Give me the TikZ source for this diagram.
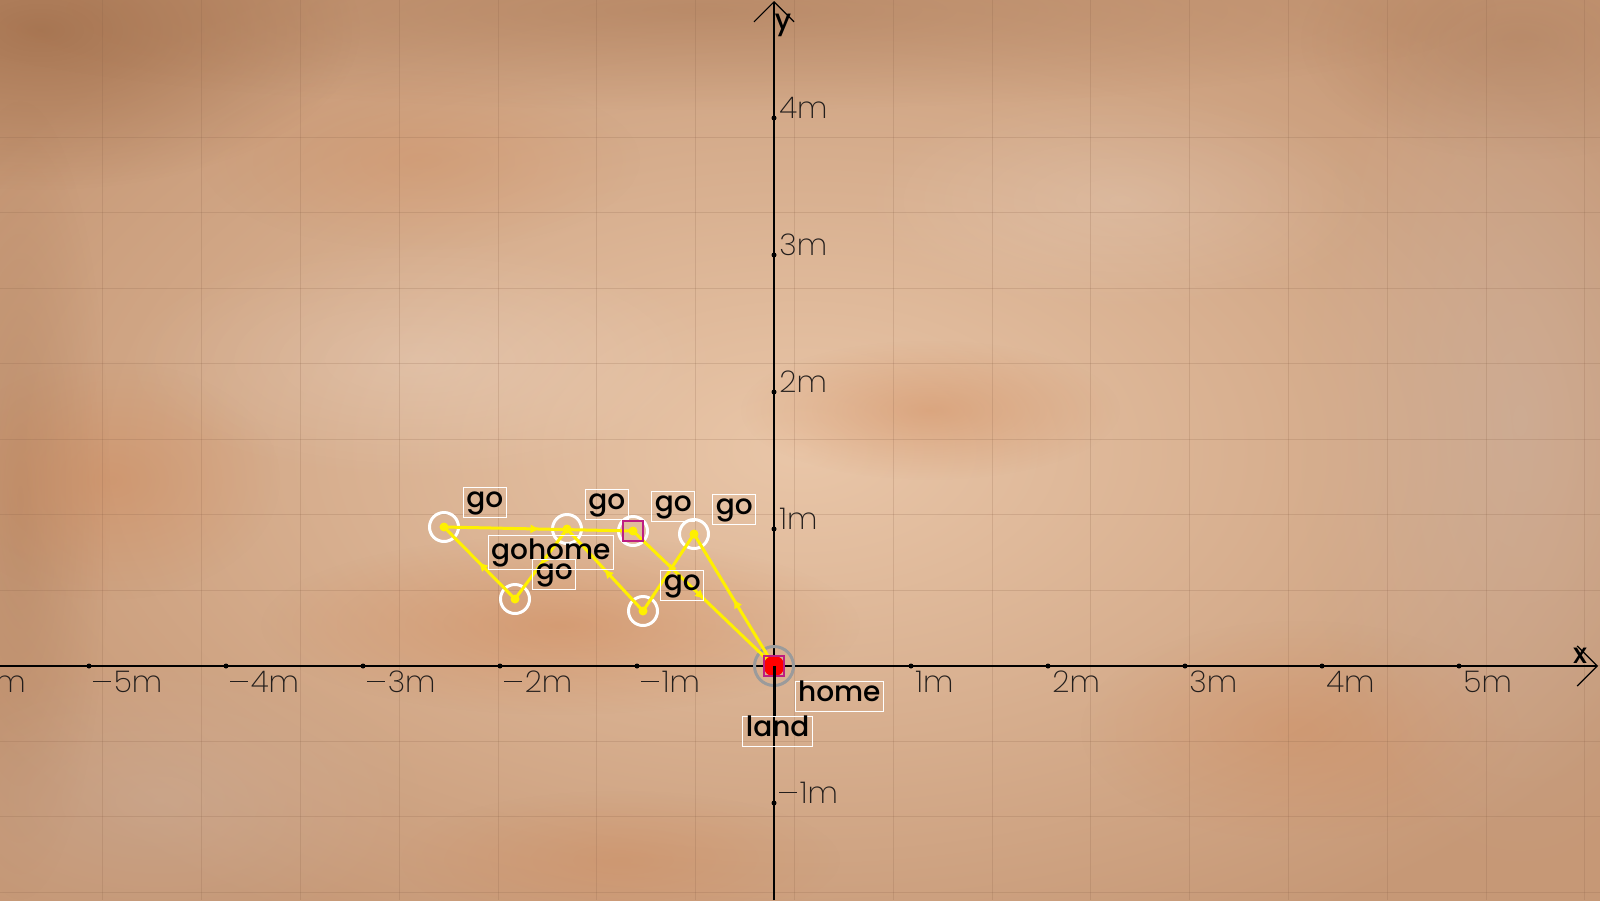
\documentclass[tikz,border=0pt]{standalone}
\usepackage{fontspec}
\newfontfamily\lblfont{Poppins Medium}
\newfontfamily\tickfont{Poppins ExtraLight}
\usetikzlibrary{arrows.meta,decorations.markings,fadings}
\newcommand\mns{\rule[0.33em]{0.6em}{0.6pt}\kern0.08em}
\definecolor{parchlight}{RGB}{233,198,168}
\definecolor{parchdark}{RGB}{198,152,118}
\definecolor{blotch}{RGB}{205,128,78}
\definecolor{darkbrown}{RGB}{150,98,62}
\definecolor{grayish}{RGB}{205,178,160}
\definecolor{gridc}{RGB}{135,95,70}
\definecolor{pathyel}{RGB}{255,240,0}
\definecolor{sqmag}{RGB}{190,30,130}
\definecolor{ringgray}{RGB}{155,155,155}
\definecolor{tickc}{RGB}{35,30,28}
\tikzfading[name=softblob, inner color=transparent!0, outer color=transparent!100]
\begin{document}
\begin{tikzpicture}[x=0.5pt,y=-0.5pt,
  blob/.style={path fading=softblob},
  gridline/.style={draw=gridc, opacity=0.2, line width=0.5pt},
  axisline/.style={draw=black, line width=0.75pt},
  tickdot/.style={fill=black},
  ticklbl/.style={font=\tickfont\fontsize{15}{15}\selectfont, text=tickc, inner sep=0pt},
  yel/.style={draw=pathyel, color=pathyel, line width=1.5pt, postaction={decorate},
    decoration={markings, mark=at position 0.5 with {\arrow{Triangle[length=4pt,width=4pt]}}}},
  wring/.style={draw=white, line width=1.5pt},
  ydot/.style={fill=pathyel},
  sqbox/.style={draw=sqmag, line width=0.6pt, minimum size=10pt, inner sep=0pt},
  lbl/.style={draw=white, line width=0.5pt, font=\lblfont\fontsize{14}{14}\selectfont, text=black,
    inner xsep=1.5pt, inner ysep=0pt, text height=10pt, text depth=5pt},
  axlbl/.style={font=\lblfont\fontsize{14}{14}\selectfont, text=black, inner sep=0pt}
]
\useasboundingbox (0,0) rectangle (1600,900);
\clip (0,0) rectangle (1600,900);
% background parchment
\shade[inner color=parchlight, outer color=parchdark] (-150,-100) rectangle (1750,1000);
\fill[darkbrown, opacity=0.6, blob] (40,30) ellipse (320 and 160);
\fill[darkbrown, opacity=0.35, blob] (700,10) ellipse (800 and 100);
\fill[darkbrown, opacity=0.3, blob] (1520,40) ellipse (220 and 120);
\fill[darkbrown, opacity=0.25, blob] (20,500) ellipse (90 and 400);
\fill[blotch, opacity=0.45, blob] (560,625) ellipse (300 and 90);
\fill[blotch, opacity=0.4, blob] (930,410) ellipse (190 and 70);
\fill[blotch, opacity=0.35, blob] (110,480) ellipse (170 and 120);
\fill[blotch, opacity=0.3, blob] (1300,730) ellipse (220 and 110);
\fill[blotch, opacity=0.3, blob] (620,860) ellipse (220 and 70);
\fill[blotch, opacity=0.25, blob] (420,160) ellipse (220 and 90);
\fill[grayish, opacity=0.55, blob] (1520,420) ellipse (220 and 460);
\fill[grayish, opacity=0.4, blob] (160,800) ellipse (260 and 140);
\fill[white, opacity=0.18, blob] (420,360) ellipse (300 and 120);
\fill[white, opacity=0.15, blob] (1120,200) ellipse (260 and 110);
% faint texture grid
\foreach \i in {1,...,16} \draw[gridline] ({4+98.8*\i},0) -- ({4+98.8*\i},900);
\foreach \j in {1,...,11} \draw[gridline] (0,{61.5+75.5*\j}) -- (1600,{61.5+75.5*\j});
% axes
\coordinate (O) at (774,666);
\coordinate (xl) at (0,666);
\coordinate (xr) at (1598,666);
\coordinate (yb) at (774,900);
\coordinate (yt) at (774,1);
\draw[axisline, -{Straight Barb[length=10pt,width=20pt,line width=0.6pt]}] (xl) -- (xr);
\draw[axisline, -{Straight Barb[length=10pt,width=20pt,line width=0.6pt]}] (yb) -- (yt);
\node[axlbl] (xlab) at (1580,656) {x};
\node[axlbl] (ylab) at (783,25) {y};
% x ticks
\foreach \k/\t in {-6/\mns6m,-5/\mns5m,-4/\mns4m,-3/\mns3m,-2/\mns2m,-1/\mns1m,1/1m,2/2m,3/3m,4/4m,5/5m}{
  \fill[tickdot] ({774+137*\k},666) circle (2.5);
  \node[ticklbl, anchor=base west] at ({778+137*\k},692) {\t};
}
% y ticks
\foreach \k/\t in {1/1m,2/2m,3/3m,4/4m,-1/\mns1m}{
  \fill[tickdot] (774,{666-137*\k}) circle (2.5);
  \node[ticklbl, anchor=base west] at (779,{666-137*\k}) {\t};
}
% waypoints
\coordinate (A) at (444,527);
\coordinate (B) at (567,529);
\coordinate (C) at (633,531);
\coordinate (D) at (694,534);
\coordinate (E) at (515,599);
\coordinate (F) at (643,611);
\foreach \p in {A,B,C,D,E,F} \draw[wring] (\p) circle (14.5);
\draw[draw=ringgray, line width=1.5pt] (O) circle (19.5);
% flight path
\draw[yel] (O) -- (D);
\draw[yel] (D) -- (F);
\draw[yel] (F) -- (B);
\draw[yel] (B) -- (E);
\draw[yel] (E) -- (A);
\draw[yel] (A) -- (C);
\draw[yel] (C) -- (O);
\foreach \p in {A,B,C,D,E,F} \fill[ydot] (\p) circle (4.5);
\node[sqbox] (sqC) at (C) {};
% home point
\fill[red] (O) circle (10.5);
\node[sqbox] (sqO) at (O) {};
% labels
\node[lbl] (gA) at (484.7,502.3) {go};
\node[lbl] (gB) at (606.7,504.3) {go};
\node[lbl] (gC) at (673.3,506.3) {go};
\node[lbl] (gD) at (734.3,509.3) {go};
\node[lbl] (gE) at (554.3,574.3) {go};
\node[lbl, text height=12pt] (gh) at (550.8,552.7) {gohome};
\node[lbl] (gF) at (682.3,585.3) {go};
\node[lbl] (home) at (839.3,696) {home};
\node[lbl] (land) at (777.7,731.7) {land};
\draw[black, line width=1.5pt] (O) -- (O |- land.north);
\end{tikzpicture}
\end{document}
